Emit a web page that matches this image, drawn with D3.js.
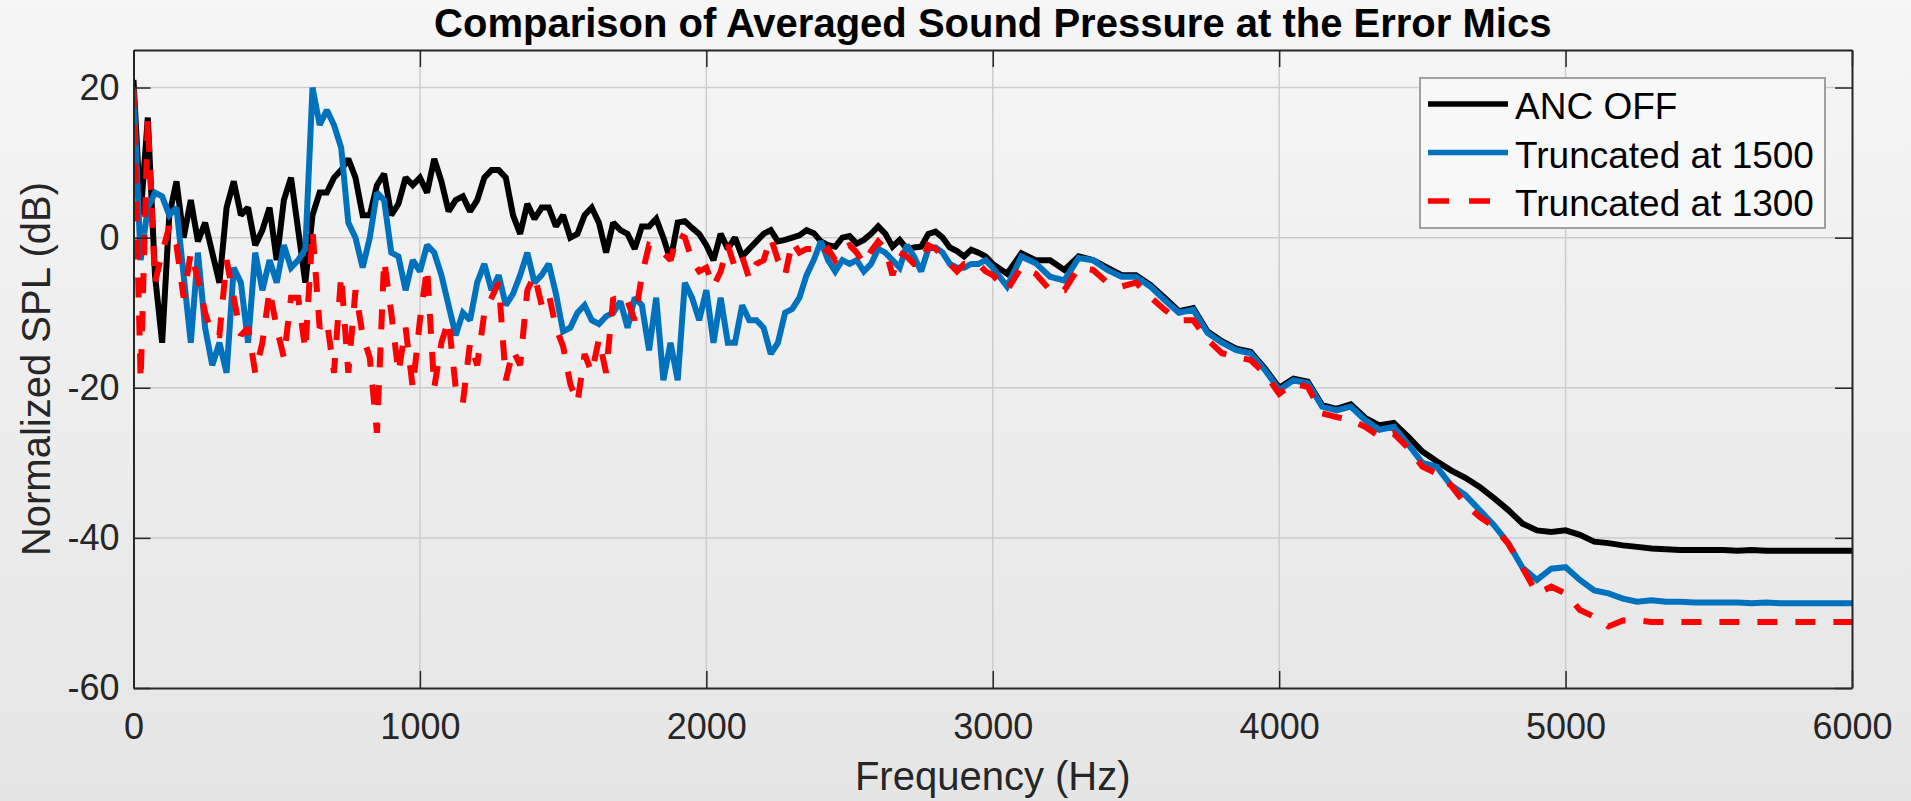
<!DOCTYPE html>
<html>
<head>
<meta charset="utf-8">
<script src="https://cdn.jsdelivr.net/npm/d3@7/dist/d3.min.js"></script>
<style>
  html, body { margin: 0; padding: 0; }
  body { width: 1911px; height: 801px; overflow: hidden; }
  svg { display: block; font-family: "Liberation Sans", Arial, Helvetica, sans-serif; }
</style>
</head>
<body>
<svg id="chart" width="1911" height="801"></svg>
<script>
// ---------------- DATA ----------------
const titleText = "Comparison of Averaged Sound Pressure at the Error Mics";
const xLabel = "Frequency (Hz)";
const yLabel = "Normalized SPL (dB)";
const seriesNames = ["ANC OFF", "Truncated at 1500", "Truncated at 1300"];
const xTicks = [0, 1000, 2000, 3000, 4000, 5000, 6000];
const yTicks = [-60, -40, -20, 0, 20];

const freqLow = [0,25,50,75,100,125,150,175,200,225,250,275,300,325,350,375,400,425,450,475,
  500,525,550,575,600,625,650,675,700,725,750,775,800,825,850,875,900,925,950,975,
  1000,1025,1050,1075,1100,1125,1150,1175,1200,1225,1250,1275,1300,1325,1350,1375,1400,1425,1450,1475,
  1500,1525,1550,1575,1600,1625,1650,1675,1700,1725,1750,1775,1800,1825,1850,1875,1900,1925,1950,1975,
  2000,2025,2050,2075,2100,2125,2150,2175,2200,2225,2250,2275,2300,2325,2350,2375,2400,2425,2450,2475,
  2500,2525,2550,2575,2600,2625,2650,2675,2700,2725,2750,2775,2800,2825,2850,2875,2900,2925,2950,2975,3000];
const freqHigh = [3050,3100,3150,3200,3250,3300,3350,3400,3450,3500,3550,3600,3650,3700,3750,3800,3850,3900,3950,4000,
  4050,4100,4150,4200,4250,4300,4350,4400,4450,4500,4550,4600,4650,4700,4750,4800,4850,4900,4950,5000,
  5050,5100,5150,5200,5250,5300,5350,5400,5450,5500,5550,5600,5650,5700,5750,5800,5850,5900,5950,6000];

const ancOffLow = [21,3,16,-5,-14,3,7.5,0,5,-0.5,2,-2,-6,4,7.5,3,4,-1,1,4,
  -3,5,8,1,-6,3,6,6,8,9,10.5,8,3,3,7,8.5,3,4.5,8,7,
  8,6,10.5,7.5,3.5,5,5.5,3.5,5,8,9,9,8,3,0.5,4.5,2.5,4,4,1.5,
  3,0,0.5,3,4,2,-2,2,1,0.5,-1.5,1.5,1.5,2.5,0,-3,2,2.2,1.3,0.5,
  -1,-3,0.5,-1.5,0,-2.5,-1.5,-0.5,0.5,1,-0.5,-0.3,0,0.3,1,0.6,-0.5,-1,-1.2,0,
  0.2,-0.8,-0.3,0.5,1.5,0.5,-1.2,-0.3,-1.5,-1.3,-1.2,0.5,0.8,0,-1.3,-1.8,-2.5,-1.6,-2,-2.5,-3.5];
const ancOffHigh = [-4.8,-2.1,-3,-3,-4.3,-2.5,-3,-4,-5,-5,-6.3,-8,-9.8,-9.4,-12.5,-13.8,-14.8,-15.2,-17.4,-20,
  -18.8,-19.2,-22.3,-22.8,-22.2,-24,-25,-24.7,-26.5,-28.5,-29.8,-31,-32,-33.2,-34.7,-36.3,-38.1,-39,-39.2,-39,
  -39.6,-40.5,-40.7,-41,-41.2,-41.4,-41.5,-41.6,-41.6,-41.6,-41.6,-41.7,-41.6,-41.7,-41.7,-41.7,-41.7,-41.7,-41.7,-41.7];

const trunc1500Low = [20,-3,4,6,5.5,3,4,-5,-14,-2,-12,-17,-14,-18,-4,-6,-14,-2,-7,-3,
  -6,-1,-4,-3,-1.5,20,15,17,15,12,2,0,-4,0,6,5,-2,-2.5,-7,-3,
  -4.5,-1,-2,-5,-9,-13,-10,-11,-6,-3.5,-7,-5,-9,-7.5,-5,-2,-6,-5,-3.5,-7.5,
  -12.5,-12,-10,-9,-11,-11.5,-10.5,-10,-8.5,-12,-8,-9,-15,-8,-19,-14,-19,-6,-8,-11,
  -7,-14,-8,-14,-14,-9,-11,-11,-12,-15.5,-14,-10,-9.5,-8,-5,-3,-0.5,-3,-4.5,-3,
  -3.5,-3,-4.5,-3.5,-1.5,-2,-3,-4,-1,-2.5,-4.5,-1.5,-1.3,-2,-3.5,-4,-4,-3.5,-3.5,-3,-4];
const trunc1500High = [-6.5,-2.5,-3.4,-5.2,-5.7,-2.7,-3,-4.3,-5.2,-5.2,-6.5,-8.3,-10,-9.6,-12.7,-14,-15,-15.4,-17.6,-20.3,
  -19,-19.4,-22.5,-23,-22.5,-24.3,-25.6,-25.2,-27.5,-30,-30.5,-33,-34.3,-36.3,-38.3,-40.7,-44,-45.6,-44.1,-43.9,
  -45.6,-47,-47.4,-48.1,-48.5,-48.3,-48.5,-48.5,-48.6,-48.6,-48.6,-48.6,-48.7,-48.6,-48.7,-48.7,-48.7,-48.7,-48.7,-48.7];

const trunc1300Low = [20,-19,16,-6,-2,1.5,-1,-8,-2,-5.5,-10,-13,-13,-3,-8,-13,-12,-18,-14,-7,
  -12,-16,-8,-8,-15,1,-12,-11,-18,-5,-18,-7,-13,-16,-26,-3,-10,-18,-12,-20,
  -11,-4,-20,-14,-11,-20,-22,-14,-17,-10,-8,-6,-19,-15,-17,-7,-5,-9,-7.5,-12,
  -14.5,-19.5,-22,-15.5,-18,-13.5,-18,-8,-9,-8.5,-11,-5,-1,-1.5,-2,-3,0.5,0,-3,-4.5,
  -4,-6.5,-4.5,-1,-4,-2.5,-5.5,-3.5,-3,0,-3,-5,-0.5,-2,-1.5,-1.5,-2.5,-1.5,-3,-1.5,
  -1,-2,-3.5,-1.8,-0.5,-1.5,-5,-2,-2.5,-3.5,-3.5,-1,-1.5,-2.5,-3.5,-4.5,-3.5,-3.5,-3.5,-4.5,-5];
const trunc1300High = [-7,-3.9,-4.8,-7,-7,-4,-4.3,-6,-6.5,-6,-7.9,-9.6,-11,-11,-13.6,-15.4,-15.9,-16.3,-18.1,-20.8,
  -19.4,-19.9,-23.4,-23.9,-24.3,-25.2,-26.5,-26.1,-28,-30.5,-31.4,-33,-35.5,-37.2,-38.5,-40.8,-44,-47.4,-46.5,-47.4,
  -49.6,-50.5,-51.8,-51,-51,-51.2,-51.2,-51.2,-51.2,-51.2,-51.2,-51.2,-51.2,-51.2,-51.2,-51.2,-51.2,-51.2,-51.2,-51.2];

const seriesColors = ["#000000", "#0072BD", "#FF0000"];
const seriesDash = [null, null, "20,18"];

// ---------------- LAYOUT ----------------
const W = 1911, H = 801;
const plot = { left: 133.5, right: 1852, top: 50, bottom: 688 };

const svg = d3.select("#chart");

// background gradient
const defs = svg.append("defs");
const grad = defs.append("linearGradient").attr("id", "bg").attr("x1", 0).attr("y1", 0).attr("x2", 0).attr("y2", 1);
grad.append("stop").attr("offset", "0%").attr("stop-color", "#f6f6f6");
grad.append("stop").attr("offset", "100%").attr("stop-color", "#e5e5e5");
svg.append("rect").attr("width", W).attr("height", H).attr("fill", "url(#bg)");

const x = d3.scaleLinear().domain([0, 6000]).range([plot.left, plot.right]);
const y = d3.scaleLinear().domain([-60, 25]).range([plot.bottom, plot.top]);

// grid
const grid = svg.append("g").attr("class", "grid");
grid.selectAll("line.gx").data(xTicks.slice(1, -1)).join("line")
  .attr("x1", d => x(d)).attr("x2", d => x(d))
  .attr("y1", plot.top).attr("y2", plot.bottom)
  .attr("stroke", "#cdcdcd").attr("stroke-width", 1.5);
grid.selectAll("line.gy").data(yTicks.slice(1)).join("line")
  .attr("x1", plot.left).attr("x2", plot.right)
  .attr("y1", d => y(d)).attr("y2", d => y(d))
  .attr("stroke", "#cdcdcd").attr("stroke-width", 1.5);

// series
const freq = freqLow.concat(freqHigh);
const series = [
  ancOffLow.concat(ancOffHigh),
  trunc1500Low.concat(trunc1500High),
  trunc1300Low.concat(trunc1300High)
];
const line = d3.line().x(d => x(d[0])).y(d => y(d[1]));
const clip = defs.append("clipPath").attr("id", "plotclip");
clip.append("rect").attr("x", plot.left).attr("y", plot.top)
  .attr("width", plot.right - plot.left).attr("height", plot.bottom - plot.top);
const lines = svg.append("g").attr("clip-path", "url(#plotclip)");
series.forEach((vals, i) => {
  const pts = freq.map((f, k) => [f, vals[k]]);
  lines.append("path").datum(pts)
    .attr("d", line)
    .attr("fill", "none")
    .attr("stroke", seriesColors[i])
    .attr("stroke-width", 6)
    .attr("stroke-linejoin", "miter")
    .attr("stroke-miterlimit", 2)
    .attr("stroke-dasharray", seriesDash[i]);
});

// axes
const axisColor = "#262626";
const fmt = d => String(d);
function styleAxis(g) {
  g.select(".domain").attr("stroke", axisColor).attr("stroke-width", 2);
  g.selectAll(".tick line").attr("stroke", axisColor).attr("stroke-width", 1.5);
  g.selectAll(".tick text").attr("fill", "#262626")
    .style("font-family", '"Liberation Sans", Arial, sans-serif').style("font-size", "36px");
}
const xAxis = svg.append("g").attr("transform", `translate(0,${plot.bottom})`)
  .call(d3.axisBottom(x).tickValues(xTicks).tickSizeInner(-17).tickSizeOuter(0).tickPadding(25).tickFormat(fmt));
styleAxis(xAxis);
const xAxisTop = svg.append("g").attr("transform", `translate(0,${plot.top})`)
  .call(d3.axisTop(x).tickValues(xTicks).tickSizeInner(-17).tickSizeOuter(0).tickFormat(""));
styleAxis(xAxisTop);
const yAxis = svg.append("g").attr("transform", `translate(${plot.left},0)`)
  .call(d3.axisLeft(y).tickValues(yTicks).tickSizeInner(-17).tickSizeOuter(0).tickPadding(14).tickFormat(fmt));
styleAxis(yAxis);
const yAxisRight = svg.append("g").attr("transform", `translate(${plot.right},0)`)
  .call(d3.axisRight(y).tickValues(yTicks).tickSizeInner(-17).tickSizeOuter(0).tickFormat(""));
styleAxis(yAxisRight);

// title & labels
svg.append("text").attr("x", (plot.left + plot.right) / 2).attr("y", 37)
  .attr("text-anchor", "middle").attr("font-weight", "bold").attr("font-size", 40)
  .attr("fill", "#000").text(titleText);
svg.append("text").attr("x", (plot.left + plot.right) / 2).attr("y", 790)
  .attr("text-anchor", "middle").attr("font-size", 40).attr("fill", "#262626").text(xLabel);
svg.append("text").attr("transform", `translate(50,${(plot.top + plot.bottom) / 2}) rotate(-90)`)
  .attr("text-anchor", "middle").attr("font-size", 40).attr("fill", "#262626").text(yLabel);

// legend
const lg = svg.append("g").attr("transform", "translate(1420,78)");
lg.append("rect").attr("width", 405).attr("height", 150)
  .attr("fill", "#f8f8f8").attr("stroke", "#a0a0a0").attr("stroke-width", 2);
seriesNames.forEach((name, i) => {
  const cy = 26 + i * 48.5;
  lg.append("line").attr("x1", 8).attr("x2", 88).attr("y1", cy).attr("y2", cy)
    .attr("stroke", seriesColors[i]).attr("stroke-width", 5.5)
    .attr("stroke-dasharray", seriesDash[i] ? "21,20" : null);
  lg.append("text").attr("x", 95).attr("y", cy + 15)
    .attr("font-size", 37).attr("fill", "#000").text(name);
});
</script>
</body>
</html>
